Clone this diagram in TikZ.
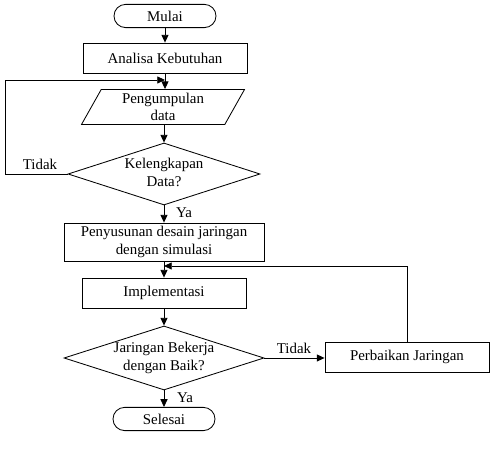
\documentclass[tikz,border=0pt]{standalone}
\usepackage{fontspec}
\setmainfont{Liberation Serif}
\usetikzlibrary{shapes.geometric,shapes.misc,arrows.meta}
\newcommand{\isibelah}[1]{\makebox[0pt]{\begin{tabular}{@{}c@{}}#1\end{tabular}}}
\tikzset{
    terminal/.style={draw, rounded rectangle, minimum width=2.55cm, minimum height=0.58cm, inner sep=0pt},
    proses/.style={draw, rectangle, minimum width=4.1cm, minimum height=0.75cm, inner sep=0pt, align=center},
    masukan/.style={draw, trapezium, trapezium left angle=65, trapezium right angle=115, trapezium stretches=true,
        minimum width=4.075cm, minimum height=0.875cm, inner sep=0pt, align=center},
    keputusan/.style={draw, diamond, aspect=3, minimum width=4.8cm, minimum height=1.55cm, inner sep=0pt},
    panah/.style={-{Triangle[length=5.5pt,width=5pt]}},
}
\begin{document}
\begin{tikzpicture}[x=0.025cm, y=0.025cm, line width=0.6pt, font=\fontsize{10.6}{12.5}\selectfont]
            \useasboundingbox (0,0) rectangle (494,-457);

            \node[terminal] (mulai) at (165,-16) {Mulai};
            \node[proses] (analisa) at (165,-58) {Analisa Kebutuhan};
            \node[masukan] (pengumpulan) at (163,-107) {Pengumpulan\\data};
            \node[keputusan] (kelengkapan) at (164,-174) {\isibelah{Kelengkapan\\Data?}};
            \node[proses, minimum width=5cm, minimum height=0.95cm] (penyusunan) at (164,-242)
                {Penyusunan desain jaringan\\dengan simulasi};
            \node[proses] (implementasi) at (164,-293) {Implementasi};
            \node[keputusan, minimum width=5cm, minimum height=1.6cm] (bekerja) at (164,-358)
                {\isibelah{Jaringan Bekerja\\dengan Baik?}};
            \node[proses] (perbaikan) at (407,-357) {Perbaikan Jaringan};
            \node[terminal] (selesai) at (164,-419) {Selesai};

            \coordinate (kiri) at (5,-174);
            \coordinate (balik1) at (165,-80);
            \coordinate (balik2) at (164,-266);

            \draw [panah] (mulai.south) -- (analisa.north);
            \draw [panah] (analisa.south) -- (analisa.south |- pengumpulan.north);
            \draw [panah] (kelengkapan.west) -- (kiri) |- (balik1);
            \draw [panah] (kelengkapan.north |- pengumpulan.south) -- (kelengkapan.north);
            \draw [panah] (kelengkapan.south) -- (penyusunan.north);
            \draw [panah] (penyusunan.south) -- (implementasi.north);
            \draw [panah] (perbaikan.north) |- (balik2);
            \draw [panah] (implementasi.south) -- (bekerja.north);
            \draw [panah] (bekerja.east) -- (bekerja.east -| perbaikan.west);
            \draw [panah] (bekerja.south) -- (selesai.north);

            \node (tidak1) at (40,-164) {Tidak};
            \node (ya1) at (184,-213) {Ya};
            \node (tidak2) at (294,-348) {Tidak};
            \node (ya2) at (185,-398) {Ya};

        \end{tikzpicture}
\end{document}
